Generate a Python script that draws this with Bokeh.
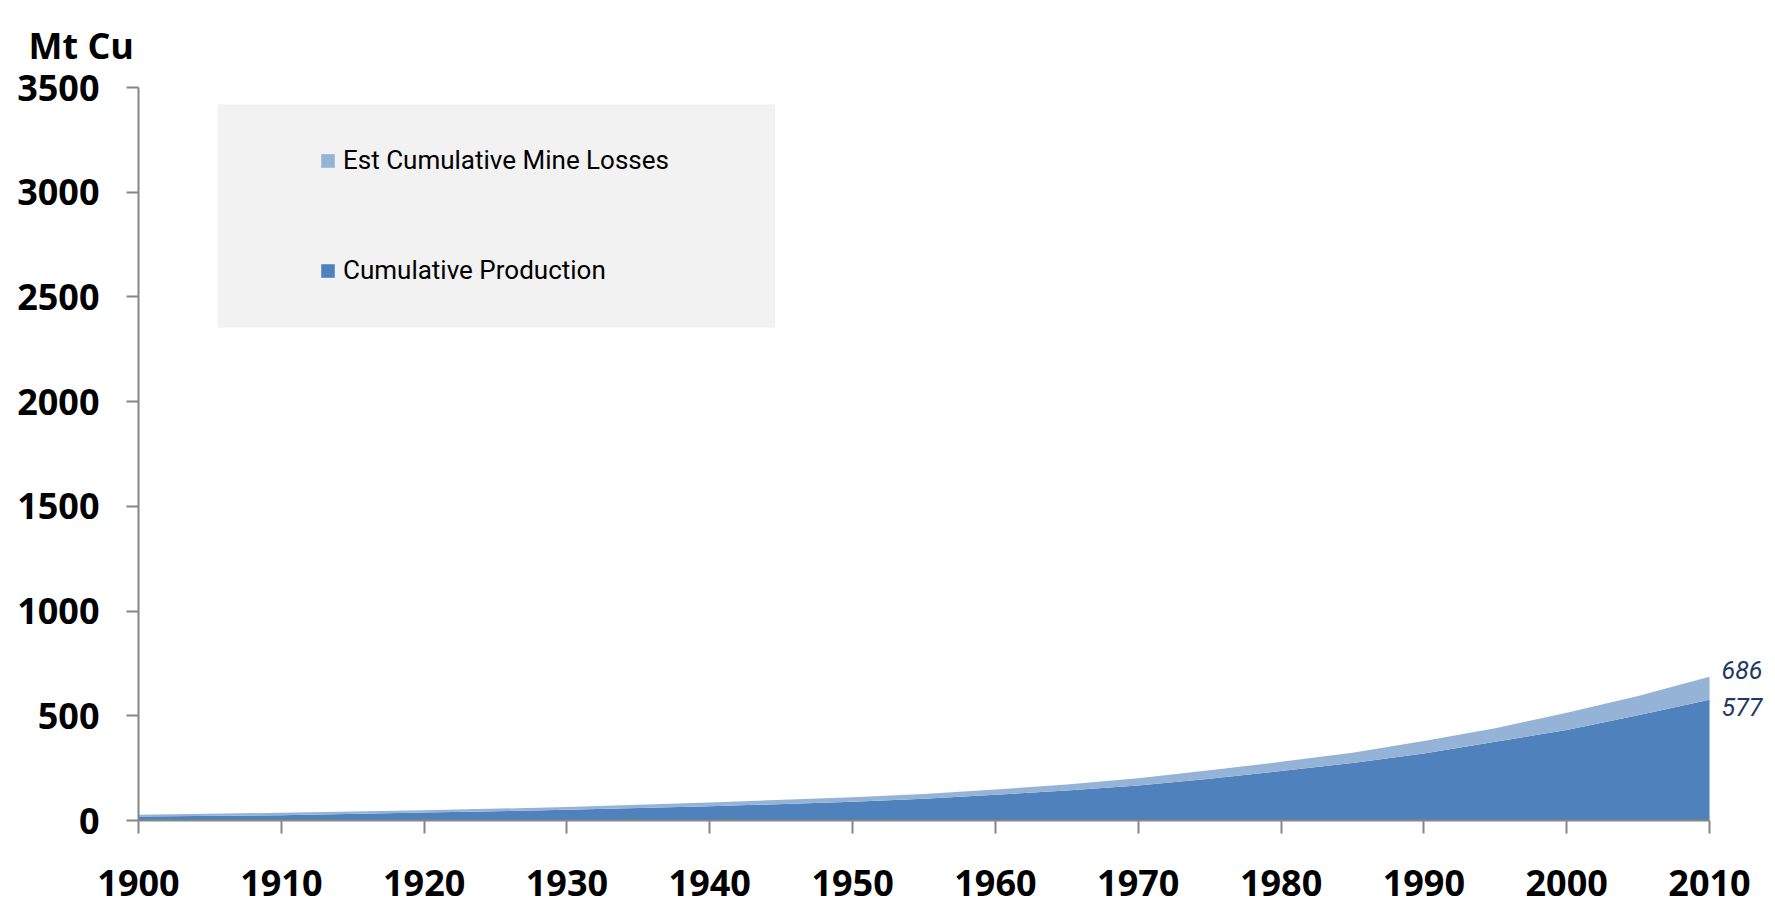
from bokeh.plotting import figure
from bokeh.models import (Range1d, Legend, LegendItem, BoxAnnotation, Label,
                          ColumnDataSource, FixedTicker)
from bokeh.embed import file_html
from bokeh.resources import INLINE

# ---- data ----
years = [1900, 1910, 1920, 1930, 1940, 1950, 1955, 1960, 1965, 1970, 1975,
         1980, 1985, 1990, 1995, 2000, 2005, 2010]
production = [19, 25, 38, 51, 68, 89, 104, 123, 143, 167, 199, 236, 275, 320,
              376, 432, 502, 577]
losses = [8, 12, 11, 13, 18, 22, 23, 25, 29, 35, 41, 44, 48, 60, 65, 82, 92,
          109]
x_ticks = list(range(1900, 2011, 10))
y_ticks = list(range(0, 3501, 500))
series_names = ["Cumulative Production", "Est Cumulative Mine Losses"]
unit_label = "Mt Cu"

DARK = "#4F81BD"
LIGHT = "#95B3D7"
AXIS = "#868686"
TICK_FONT = "Open Sans"
NARROW = "Roboto"

source = ColumnDataSource(dict(year=years, prod=production, loss=losses))

# the frame runs a little past 2010 so the end labels have room; the x axis
# line itself is bounded to 1900-2010
p = figure(width=1775, height=905, output_backend="svg", toolbar_location=None,
           x_range=Range1d(1900, 2014.2), y_range=Range1d(0, 3500),
           min_border_left=138, min_border_right=6, min_border_top=87,
           min_border_bottom=85)
p.outline_line_color = None
p.xgrid.visible = False
p.ygrid.visible = False
p.background_fill_color = "white"

# unit title, top-left above the y axis
p.title.text = unit_label
p.title.align = "left"
p.title.offset = -110
p.title.standoff = 35
p.title.text_font = TICK_FONT
p.title.text_font_style = "bold"
p.title.text_font_size = "36px"
p.title.text_color = "black"

# legend background box
p.add_layout(BoxAnnotation(left=1905.54, right=1944.57, bottom=2354, top=3419,
                           fill_color="#F2F2F2", fill_alpha=1.0,
                           line_color=None, level="underlay"))

rs = p.varea_stack(["prod", "loss"], x="year", source=source,
                   color=[DARK, LIGHT])
r_prod, r_loss = rs

for ax, ticks in ((p.xaxis[0], x_ticks), (p.yaxis[0], y_ticks)):
    ax.ticker = FixedTicker(ticks=ticks)
    ax.axis_line_color = AXIS
    ax.axis_line_width = 2
    ax.major_tick_line_color = AXIS
    ax.major_tick_line_width = 2
    ax.major_tick_in = 0
    ax.major_tick_out = 12
    ax.minor_tick_line_color = None
    ax.major_label_text_font = TICK_FONT
    ax.major_label_text_font_style = "bold"
    ax.major_label_text_font_size = "36px"
    ax.major_label_text_color = "black"

p.xaxis[0].bounds = (x_ticks[0], x_ticks[-1])
p.xaxis[0].major_tick_out = 13
p.xaxis[0].major_label_standoff = 36
p.yaxis[0].major_label_standoff = 27

legend = Legend(items=[LegendItem(label=series_names[1], renderers=[r_loss]),
                       LegendItem(label=series_names[0], renderers=[r_prod])],
                location=(181, 535), padding=0, margin=0, spacing=80,
                glyph_width=17, glyph_height=17, label_height=30,
                label_standoff=7,
                label_text_font=NARROW,
                label_text_font_size="26px", label_text_color="black",
                background_fill_alpha=0, border_line_alpha=0)
p.add_layout(legend)

# end values
total_end = production[-1] + losses[-1]
for val, off in ((total_end, 7), (production[-1], -7)):
    p.add_layout(Label(x=years[-1], y=val, x_offset=12, y_offset=off,
                       text=str(val), text_font=NARROW,
                       text_font_style="italic", text_font_size="25px",
                       text_baseline="middle", text_align="left",
                       text_color="#1F3A5F"))

open("out.html", "w").write(file_html(p, INLINE))
